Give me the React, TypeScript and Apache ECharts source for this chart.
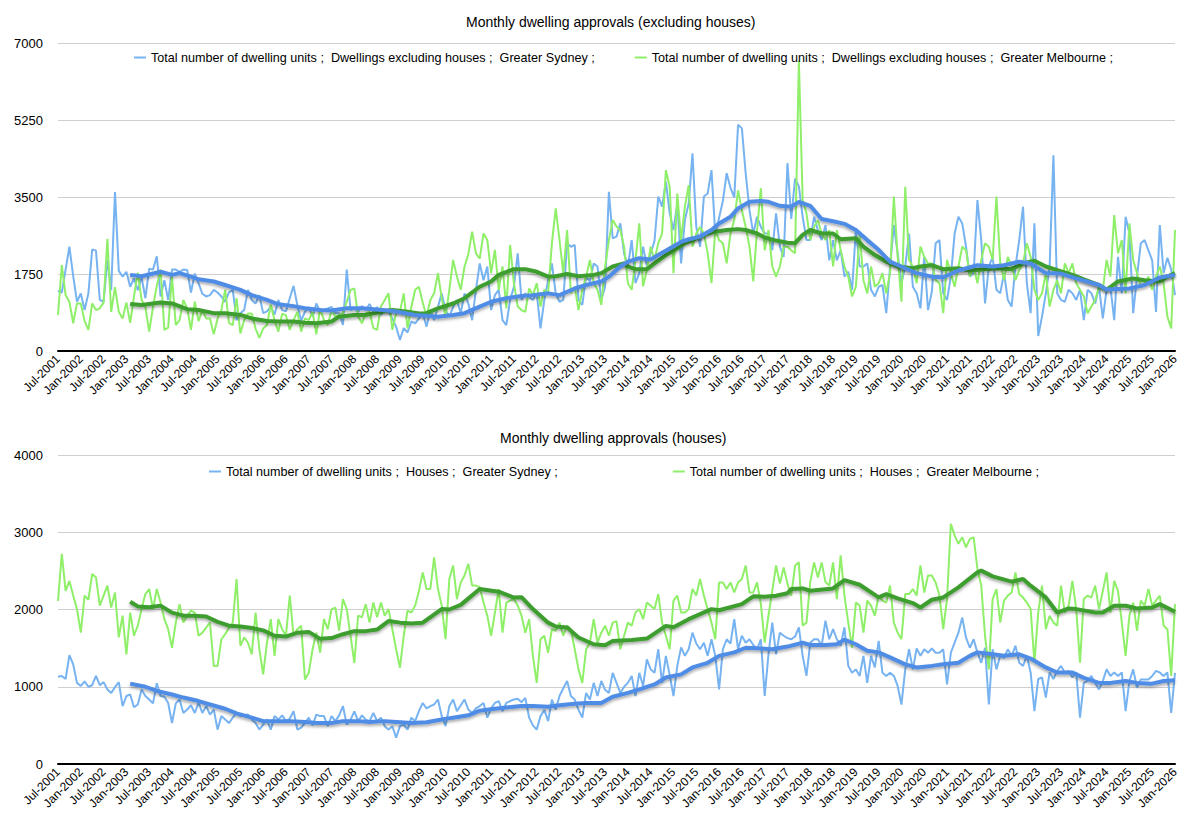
import React, { useEffect, useRef } from "react";
import * as echarts from "echarts";

// monthly series, Jul-2001 .. Jan-2026
const sydneyUnits = [
  1370, 1330, 1850, 2370, 1700, 1120, 1310, 930, 1310, 2310, 2280, 1160,
  1120, 2070, 1380, 3610, 1820, 1690, 1800, 1460, 1650, 1380, 1670, 1200,
  1870, 1850, 2150, 1240, 1610, 1160, 1850, 1850, 1800, 1850, 1840, 1330,
  1760, 1540, 1300, 1240, 1270, 1390, 1330, 1240, 1120, 1330, 1390, 700,
  860, 930, 1390, 1160, 1080, 1270, 860, 900, 1010, 830, 1160, 930,
  900, 1200, 1480, 1040, 690, 890, 1000, 780, 1080, 890, 930, 970,
  1000, 860, 860, 590, 1850, 930, 970, 890, 1020, 930, 1070, 890,
  1000, 820, 930, 890, 740, 550, 250, 520, 420, 670, 630, 740,
  860, 550, 930, 700, 1000, 1310, 930, 780, 1000, 1160, 860, 1310,
  1080, 700, 1390, 1990, 1610, 1920, 930, 1270, 1390, 700, 590, 1160,
  1460, 2220, 1160, 1310, 1230, 1160, 1310, 515, 1160, 1610, 1990, 1310,
  1120, 1160, 2450, 2370, 2410, 1160, 1050, 1690, 1580, 1990, 1920, 1160,
  1460, 3620, 2560, 2600, 2900, 2220, 1920, 2520, 1540, 1770, 2370, 1920,
  2220, 2500, 3510, 3280, 3850, 3130, 2750, 3350, 1990, 2980, 3350, 4490,
  2820, 2370, 3510, 3580, 4110, 2650, 3030, 3410, 4040, 3710, 3490, 5140,
  5060, 4040, 3200, 2670, 3050, 2820, 2670, 2670, 2290, 3130, 2370, 2140,
  4270, 3000, 3920, 3740, 3050, 2520, 2520, 3050, 2750, 2520, 2860, 2060,
  2520, 2060, 2290, 1690, 1800, 1390, 2750, 1920, 1920, 1990, 1390, 1240,
  1460, 1500, 860, 1900, 2860, 2220, 1540, 1920, 2670, 1460, 1310, 970,
  2140, 930, 1350, 2450, 2520, 1310, 1160, 1690, 2670, 3050, 2900, 2370,
  1690, 1770, 3430, 2520, 1080, 1920, 2140, 1390, 1310, 1770, 1160, 1010,
  1920, 2520, 3280, 1540, 860, 2900, 340, 780, 1310, 1920, 4450, 1310,
  1160, 1120, 1390, 1310, 1160, 1390, 700, 1390, 1310, 1080, 1460, 740,
  1390, 1460, 700, 2140, 1310, 3050, 2670, 860, 1690, 2450, 2520, 2290,
  2060, 890, 2860, 1770, 2120, 1850, 1270,
];

const melbUnits = [
  818, 1950, 1270, 1120, 630, 1080, 1080, 680, 480, 1080, 930, 970,
  1100, 2550, 890, 1450, 890, 740, 1100, 640, 1240, 1780, 1160, 1000,
  440, 1000, 1480, 1850, 480, 530, 1690, 590, 700, 1160, 970, 480,
  1120, 680, 930, 740, 740, 380, 740, 930, 1390, 640, 590, 1200,
  400, 700, 850, 850, 510, 300, 510, 590, 1050, 700, 440, 850,
  810, 480, 700, 890, 440, 740, 700, 890, 380, 970, 700, 590,
  930, 780, 820, 860, 1120, 1390, 1420, 780, 630, 860, 890, 520,
  480, 1010, 1160, 1310, 480, 860, 900, 1310, 515, 1000, 1390, 1460,
  1100, 780, 1160, 1310, 1770, 1200, 780, 1390, 2070, 1690, 1390, 1920,
  2200, 2710, 2220, 2100, 2670, 2520, 1770, 2300, 1390, 1920, 970, 2410,
  1540, 1010, 930, 890, 1420, 1270, 1540, 1010, 1390, 1310, 2450, 3240,
  2520, 1770, 2750, 1310, 1460, 930, 1390, 1690, 2070, 1540, 1390, 1050,
  1920, 2520, 2980, 2830, 2750, 2370, 1540, 1390, 2070, 2900, 1470, 1850,
  2370, 2070, 2450, 2670, 4110, 3730, 1770, 3580, 2520, 3280, 3770, 2370,
  2670, 2820, 2670, 2220, 1540, 2750, 2520, 2450, 1990, 2670, 2980, 3650,
  3200, 2820, 2370, 1580, 2750, 3700, 2290, 2750, 1920, 1690, 1920, 2370,
  2370, 2290, 2220, 6600, 3430, 3130, 2520, 2820, 2970, 2670, 2520, 2750,
  1920, 2750, 2290, 1920, 1690, 1240, 1460, 2670, 1610, 1310, 1920, 1460,
  1540, 1770, 1310, 1770, 3510, 2140, 1120, 3730, 2070, 1920, 1540, 2370,
  2140, 1990, 1990, 1610, 1540, 860, 2070, 1770, 1460, 1920, 2370, 2290,
  1690, 1920, 1540, 2070, 2450, 2370, 2070, 3510, 1990, 1610, 2140, 1920,
  1610, 1840, 1990, 2450, 2140, 1390, 1160, 1310, 1770, 1010, 1390, 1610,
  1310, 1990, 1770, 1990, 1540, 1390, 1240, 860, 1010, 1160, 1460, 1390,
  2070, 1690, 3090, 2220, 2520, 1310, 2900, 2070, 1770, 1460, 1540, 1690,
  1390, 1690, 1920, 1540, 780, 515, 2750,
];

const sydneyHouses = [
  1130, 1140, 1100, 1410, 1290, 1050, 1010, 1070, 1000, 1020, 1140, 1020,
  1060, 965, 920, 995, 1060, 750, 880, 900, 735, 770, 965, 880,
  835, 785, 1045, 880, 870, 790, 530, 785, 835, 660, 705, 760,
  660, 790, 660, 750, 640, 705, 445, 620, 575, 530, 600, 660,
  620, 630, 640, 575, 530, 445, 510, 575, 445, 620, 575, 630,
  555, 585, 685, 445, 470, 530, 600, 500, 640, 620, 620, 490,
  620, 555, 630, 750, 510, 575, 680, 555, 630, 575, 555, 660,
  555, 600, 490, 445, 490, 340, 490, 510, 445, 600, 555, 685,
  790, 720, 750, 770, 835, 620, 490, 750, 835, 685, 760, 835,
  705, 660, 720, 750, 790, 600, 720, 790, 815, 685, 790, 815,
  835, 845, 800, 855, 600, 500, 445, 620, 700, 555, 835, 705,
  880, 980, 1075, 880, 835, 700, 600, 920, 835, 1050, 880, 1075,
  960, 920, 1180, 1050, 920, 1000, 1050, 1140, 880, 1180, 1010, 1355,
  1225, 1180, 1485, 1050, 1400, 1150, 880, 1270, 1510, 1400, 1485, 1700,
  1560, 1485, 1570, 1400, 1615, 1400, 965, 1485, 1615, 1560, 1875, 1485,
  1660, 1570, 1615, 1540, 1485, 1615, 880, 1420, 1830, 1420, 1700, 1660,
  1630, 1615, 1650, 1770, 1400, 1140, 1570, 1615, 1615, 1530, 1855, 1615,
  1745, 1615, 1530, 1770, 1270, 1180, 1225, 1140, 1400, 1050, 1400, 1250,
  1595, 1180, 1140, 1180, 1140, 1010, 770, 1225, 1485, 1225, 1495, 1400,
  1485, 1440, 1495, 1440, 1440, 1485, 1030, 1440, 1570, 1700, 1895, 1635,
  1505, 1615, 1440, 1310, 1505, 770, 1485, 1225, 1400, 1375, 1485, 1400,
  1530, 1310, 1270, 1400, 1185, 685, 1100, 1120, 860, 1185, 1100, 1205,
  1270, 1185, 1205, 1120, 1185, 600, 1050, 1075, 1140, 1050, 965, 1075,
  1225, 1140, 1185, 1140, 1185, 685, 1075, 1225, 985, 1095, 1095, 1095,
  1140, 1205, 1185, 1140, 1185, 660, 1180,
];

const melbHouses = [
  2110, 2720, 2240, 2370, 2180, 2005, 1700, 2180, 2125, 2460, 2415, 2050,
  2180, 2310, 2025, 2220, 1640, 1920, 1420, 1960, 1660, 1790, 2005, 2200,
  2265, 2005, 2265, 2090, 1875, 1745, 1505, 1830, 2070, 1830, 1920, 1985,
  1960, 1660, 1700, 1765, 1830, 1270, 1270, 1615, 1680, 1765, 1830, 2395,
  1530, 1640, 1570, 1420, 1960, 1485, 1160, 1570, 1875, 1400, 1875, 1745,
  1660, 2180, 1660, 1745, 1790, 1095, 1180, 1485, 1700, 1440, 1875, 1745,
  2005, 2025, 1725, 2135, 2005, 1660, 1310, 1920, 1900, 2070, 1830, 2090,
  1900, 2090, 1920, 2005, 1745, 1485, 1245, 1660, 1985, 1960, 2050, 2240,
  2480, 2265, 2265, 2675, 2265, 2050, 1615, 2395, 2570, 2135, 2350, 2440,
  2590, 2310, 2310, 2290, 2090, 1920, 1660, 1960, 2265, 1700, 2090, 2115,
  2135, 2050, 1920, 1700, 1875, 1400, 1050, 1615, 1660, 1440, 1745, 1725,
  1830, 1660, 1790, 1745, 1485, 1225, 1050, 1485, 1570, 1875, 1570, 1700,
  1790, 1660, 1830, 1850, 1485, 1660, 1830, 1790, 1960, 2005, 1875, 2090,
  2050, 2005, 2200, 1830, 1660, 1485, 2115, 2180, 1960, 1960, 2005, 2265,
  2180, 2395, 2180, 2005, 1830, 1615, 2350, 2350, 2265, 2350, 2220, 2350,
  2395, 2570, 2220, 2220, 2350, 2070, 1570, 1920, 2240, 2570, 2335, 2545,
  2335, 2180, 2570, 2610, 1790, 1830, 2355, 2610, 2415, 2610, 2355, 2310,
  2610, 2135, 2700, 2180, 1830, 1505, 2090, 2050, 1700, 2115, 2050, 1920,
  2180, 2115, 2090, 2310, 1830, 1700, 1615, 2200, 2200, 2265, 2180, 2570,
  2220, 2440, 2440, 2350, 2180, 1745, 2135, 3110, 2960, 2850, 2935, 2805,
  2915, 2935, 2525, 2310, 1660, 1225, 2135, 2265, 1830, 2115, 2180, 2220,
  2480, 2200, 2155, 2090, 2005, 1310, 1960, 2310, 1745, 1920, 1830, 1790,
  2310, 1960, 2050, 2370, 2005, 1310, 2135, 2180, 2155, 2310, 2005, 2240,
  2480, 1960, 2370, 2240, 1830, 1400, 1920, 2090, 1725, 2115, 2050, 2265,
  2050, 2115, 2180, 1790, 1745, 1140, 2070,
];

// trend lines: [month index, value]
const sydneyUnitsTrend: [number, number][] = [
  [19, 1730], [22, 1700], [24, 1740], [27, 1800], [30, 1730], [32, 1770], [35, 1690], [37, 1630],
  [41, 1580], [44, 1500], [48, 1390], [51, 1270], [55, 1160], [58, 1060], [62, 1020], [65, 970],
  [69, 930], [72, 920], [76, 970], [80, 970], [83, 950], [87, 920], [90, 880], [94, 820],
  [97, 800], [100, 780], [104, 820], [107, 860], [111, 1010], [114, 1120], [118, 1200], [122, 1250],
  [125, 1270], [129, 1310], [132, 1270], [136, 1420], [139, 1500], [143, 1580], [145, 1690], [148, 1920],
  [150, 2030], [153, 2110], [156, 2080], [158, 2180], [161, 2330], [164, 2480], [166, 2540], [169, 2600],
  [172, 2750], [174, 2900], [177, 3050], [179, 3240], [182, 3390], [185, 3410], [187, 3390], [190, 3300],
  [193, 3280], [195, 3390], [198, 3300], [201, 3000], [204, 2950], [207, 2890], [210, 2750], [213, 2520],
  [216, 2300], [219, 2030], [223, 1880], [226, 1770], [230, 1690], [233, 1675], [237, 1830], [242, 1950],
  [246, 1920], [249, 1950], [253, 2030], [256, 1990], [260, 1770], [264, 1760], [268, 1650], [274, 1500],
  [276, 1400], [282, 1420], [286, 1500], [290, 1670], [294, 1730],
];

const melbUnitsTrend: [number, number][] = [
  [19, 1070], [22, 1045], [27, 1100], [30, 1080], [34, 950], [37, 930], [41, 860], [44, 860],
  [48, 820], [51, 740], [55, 680], [58, 670], [62, 670], [65, 640], [68, 630], [72, 670],
  [74, 780], [78, 820], [81, 820], [85, 890], [88, 930], [92, 890], [95, 850], [97, 860],
  [100, 970], [104, 1080], [107, 1200], [111, 1460], [114, 1580], [116, 1730], [120, 1860], [123, 1860],
  [126, 1800], [129, 1690], [131, 1700], [134, 1750], [137, 1700], [141, 1730], [143, 1770], [146, 1920],
  [149, 1990], [150, 1920], [152, 1860], [155, 1860], [157, 1990], [160, 2180], [163, 2330], [165, 2450],
  [168, 2560], [171, 2670], [173, 2710], [176, 2750], [179, 2770], [181, 2750], [184, 2670], [186, 2580],
  [189, 2510], [192, 2460], [194, 2450], [196, 2640], [198, 2750], [201, 2670], [204, 2670], [206, 2540],
  [210, 2560], [212, 2370], [215, 2180], [218, 2030], [221, 1920], [225, 1880], [227, 1920], [230, 1950],
  [233, 1860], [237, 1880], [240, 1830], [244, 1860], [247, 1880], [251, 1860], [254, 1990], [257, 2050],
  [260, 1920], [263, 1840], [267, 1730], [270, 1630], [274, 1500], [276, 1390], [279, 1580], [283, 1650],
  [286, 1610], [290, 1580], [292, 1690], [294, 1770],
];

const sydneyHousesTrend: [number, number][] = [
  [19, 1040], [23, 1000], [26, 945], [30, 900], [33, 860], [37, 815], [40, 770], [44, 715],
  [47, 655], [51, 600], [54, 555], [58, 555], [61, 555], [65, 545], [68, 530], [72, 530],
  [75, 555], [79, 555], [82, 545], [86, 555], [89, 545], [93, 530], [97, 540], [101, 575],
  [104, 600], [108, 630], [111, 690], [115, 715], [118, 730], [122, 750], [125, 750], [129, 740],
  [132, 760], [136, 780], [139, 790], [143, 790], [146, 870], [150, 920], [153, 965], [157, 1030],
  [160, 1120], [164, 1160], [167, 1250], [171, 1310], [174, 1400], [178, 1445], [181, 1505], [185, 1495],
  [188, 1485], [192, 1520], [196, 1570], [198, 1540], [202, 1540], [205, 1550], [207, 1610], [210, 1550],
  [213, 1465], [216, 1445], [219, 1380], [223, 1290], [226, 1250], [230, 1270], [233, 1290], [237, 1310],
  [240, 1400], [242, 1445], [246, 1420], [249, 1400], [253, 1420], [256, 1365], [260, 1250], [263, 1185],
  [267, 1185], [270, 1115], [274, 1050], [277, 1050], [281, 1075], [284, 1050], [288, 1040], [291, 1075],
  [294, 1085],
];

const melbHousesTrend: [number, number][] = [
  [19, 2100], [21, 2040], [24, 2030], [27, 2050], [30, 1960], [33, 1920], [36, 1920], [39, 1910],
  [42, 1840], [45, 1790], [48, 1780], [51, 1760], [54, 1730], [57, 1660], [60, 1650], [63, 1700],
  [66, 1710], [69, 1620], [72, 1630], [75, 1680], [78, 1720], [81, 1720], [84, 1740], [87, 1850],
  [90, 1830], [93, 1820], [96, 1830], [101, 2005], [103, 2000], [106, 2060], [111, 2265], [116, 2230],
  [120, 2155], [122, 2160], [125, 2005], [129, 1830], [131, 1780], [134, 1767], [137, 1637], [141, 1550],
  [144, 1537], [146, 1593], [151, 1606], [155, 1624], [160, 1788], [162, 1770], [166, 1875], [172, 2005],
  [174, 1990], [180, 2070], [183, 2170], [186, 2165], [189, 2178], [192, 2210], [193, 2265], [196, 2273],
  [198, 2243], [204, 2273], [207, 2380], [211, 2320], [216, 2156], [218, 2200], [221, 2143], [225, 2083],
  [227, 2026], [230, 2126], [233, 2156], [237, 2286], [242, 2481], [243, 2503], [246, 2429], [251, 2360],
  [254, 2394], [256, 2308], [260, 2156], [263, 1961], [266, 2013], [268, 2005], [273, 1961], [275, 1961],
  [278, 2048], [281, 2048], [284, 2013], [288, 2026], [290, 2070], [294, 1970],
];

const MONTHS = ["Jan", "Feb", "Mar", "Apr", "May", "Jun", "Jul", "Aug", "Sep", "Oct", "Nov", "Dec"];
const categories = sydneyUnits.map((_, i) => {
  const m = 6 + i;
  return `${MONTHS[m % 12]}-${2001 + Math.floor(m / 12)}`;
});

const unitsTicks = { min: 0, max: 7000, interval: 1750 };
const housesTicks = { min: 0, max: 4000, interval: 1000 };

const sydUnitsName = "Total number of dwelling units ;  Dwellings excluding houses ;  Greater Sydney ;";
const melbUnitsName = "Total number of dwelling units ;  Dwellings excluding houses ;  Greater Melbourne ;";
const sydHousesName = "Total number of dwelling units ;  Houses ;  Greater Sydney ;";
const melbHousesName = "Total number of dwelling units ;  Houses ;  Greater Melbourne ;";

const BLUE = "#77b3f1";
const GREEN = "#8fef69";
const BLUE_TREND = "#4f8ce6";
const GREEN_TREND = "#3d9d2e";
const FONT = "'Liberation Sans', Arial, sans-serif";

export default function App() {
  const chartRef = useRef<HTMLDivElement>(null);

  useEffect(() => {
    if (!chartRef.current) return;
    const chart = echarts.init(chartRef.current, null, { renderer: "svg" });

    const toCat = (t: [number, number][]) => t.map(([i, v]) => [categories[i], v]);

    const rawLine = (name: string, data: number[], color: string, idx: number) => ({
      name,
      type: "line",
      xAxisIndex: idx,
      yAxisIndex: idx,
      data,
      symbol: "none",
      lineStyle: { color, width: 2 },
      itemStyle: { color },
      z: 2,
    });

    const trendLine = (name: string, data: [number, number][], color: string, idx: number) => ({
      name,
      type: "line",
      xAxisIndex: idx,
      yAxisIndex: idx,
      data: toCat(data),
      symbol: "none",
      lineStyle: {
        color,
        width: 4,
        shadowColor: "rgba(0,0,0,0.35)",
        shadowBlur: 3,
        shadowOffsetY: 2,
      },
      itemStyle: { color },
      z: 4,
    });

    const xAxis = (idx: number) => ({
      type: "category",
      gridIndex: idx,
      data: categories,
      boundaryGap: false,
      axisLine: { lineStyle: { color: "#000", width: 2 } },
      axisTick: { show: false },
      axisLabel: { interval: 5, rotate: 45, fontSize: 12, color: "#000", margin: 6, fontFamily: FONT },
      splitLine: { show: false },
    });

    const yAxis = (idx: number, ticks: { min: number; max: number; interval: number }) => ({
      type: "value",
      gridIndex: idx,
      ...ticks,
      axisLine: { show: false },
      axisTick: { show: false },
      axisLabel: {
        fontSize: 13,
        color: "#000",
        margin: 15,
        fontFamily: FONT,
        formatter: (v: number) => String(v),
      },
      splitLine: { lineStyle: { color: "#cfcfcf", width: 1 } },
    });

    const legendStyle = {
      icon: "rect",
      itemWidth: 12,
      itemHeight: 2,
      width: 1150,
      textStyle: { fontSize: 12.6, color: "#000", fontFamily: FONT },
    };

    chart.setOption({
      animation: false,
      textStyle: { fontFamily: FONT },
      title: [
        {
          text: "Monthly dwelling approvals (excluding houses)",
          left: 461,
          top: 10,
          textStyle: { fontSize: 14, fontWeight: "normal", color: "#000", fontFamily: FONT },
        },
        {
          text: "Monthly dwelling approvals (houses)",
          left: 495,
          top: 426,
          textStyle: { fontSize: 14, fontWeight: "normal", color: "#000", fontFamily: FONT },
        },
      ],
      legend: [
        { ...legendStyle, data: [sydUnitsName, melbUnitsName], left: 129, top: 46, itemGap: 40 },
        { ...legendStyle, data: [sydHousesName, melbHousesName], left: 204, top: 460, itemGap: 115 },
      ],
      grid: [
        { left: 58, right: 23, top: 43, height: 308 },
        { left: 58, right: 23, top: 455, height: 309 },
      ],
      xAxis: [xAxis(0), xAxis(1)],
      yAxis: [yAxis(0, unitsTicks), yAxis(1, housesTicks)],
      series: [
        rawLine(sydUnitsName, sydneyUnits, BLUE, 0),
        rawLine(melbUnitsName, melbUnits, GREEN, 0),
        trendLine("Melbourne trend (excl. houses)", melbUnitsTrend, GREEN_TREND, 0),
        trendLine("Sydney trend (excl. houses)", sydneyUnitsTrend, BLUE_TREND, 0),
        rawLine(sydHousesName, sydneyHouses, BLUE, 1),
        rawLine(melbHousesName, melbHouses, GREEN, 1),
        trendLine("Melbourne trend (houses)", melbHousesTrend, GREEN_TREND, 1),
        trendLine("Sydney trend (houses)", sydneyHousesTrend, BLUE_TREND, 1),
      ],
    });

    return () => {
      chart.dispose();
    };
  }, []);

  return (
    <div
      ref={chartRef}
      style={{ position: "absolute", left: 0, top: 0, width: 1198, height: 824, background: "#fff" }}
    />
  );
}
